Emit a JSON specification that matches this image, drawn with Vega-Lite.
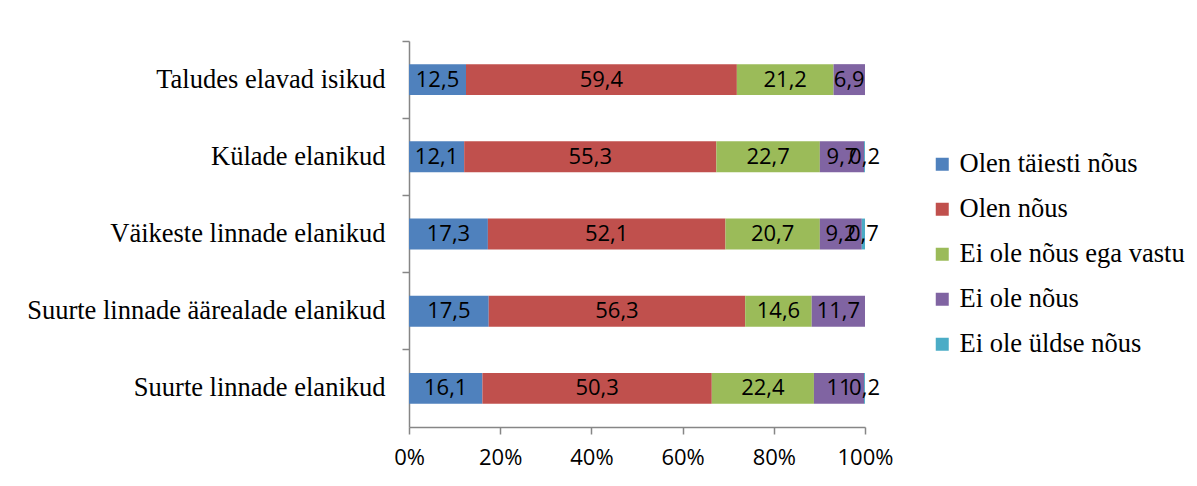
{
  "$schema": "https://vega.github.io/schema/vega-lite/v6.json",
  "width": 456,
  "height": 386,
  "autosize": "none",
  "padding": {"left": 409, "top": 41, "right": 332, "bottom": 59},
  "background": "white",
  "config": {
    "view": {"stroke": null},
    "locale": {"number": {"decimal": ",", "thousands": " ", "grouping": [3], "currency": ["", "€"]}}
  },
  "data": {
    "values": [
      {"Grupp": "Taludes elavad isikud", "Vastus": "Olen täiesti nõus", "v": 12.5},
      {"Grupp": "Taludes elavad isikud", "Vastus": "Olen nõus", "v": 59.4},
      {"Grupp": "Taludes elavad isikud", "Vastus": "Ei ole nõus ega vastu", "v": 21.2},
      {"Grupp": "Taludes elavad isikud", "Vastus": "Ei ole nõus", "v": 6.9},
      {"Grupp": "Külade elanikud", "Vastus": "Olen täiesti nõus", "v": 12.1},
      {"Grupp": "Külade elanikud", "Vastus": "Olen nõus", "v": 55.3},
      {"Grupp": "Külade elanikud", "Vastus": "Ei ole nõus ega vastu", "v": 22.7},
      {"Grupp": "Külade elanikud", "Vastus": "Ei ole nõus", "v": 9.7},
      {"Grupp": "Külade elanikud", "Vastus": "Ei ole üldse nõus", "v": 0.2},
      {"Grupp": "Väikeste linnade elanikud", "Vastus": "Olen täiesti nõus", "v": 17.3},
      {"Grupp": "Väikeste linnade elanikud", "Vastus": "Olen nõus", "v": 52.1},
      {"Grupp": "Väikeste linnade elanikud", "Vastus": "Ei ole nõus ega vastu", "v": 20.7},
      {"Grupp": "Väikeste linnade elanikud", "Vastus": "Ei ole nõus", "v": 9.2},
      {"Grupp": "Väikeste linnade elanikud", "Vastus": "Ei ole üldse nõus", "v": 0.7},
      {"Grupp": "Suurte linnade äärealade elanikud", "Vastus": "Olen täiesti nõus", "v": 17.5},
      {"Grupp": "Suurte linnade äärealade elanikud", "Vastus": "Olen nõus", "v": 56.3},
      {"Grupp": "Suurte linnade äärealade elanikud", "Vastus": "Ei ole nõus ega vastu", "v": 14.6},
      {"Grupp": "Suurte linnade äärealade elanikud", "Vastus": "Ei ole nõus", "v": 11.7},
      {"Grupp": "Suurte linnade elanikud", "Vastus": "Olen täiesti nõus", "v": 16.1},
      {"Grupp": "Suurte linnade elanikud", "Vastus": "Olen nõus", "v": 50.3},
      {"Grupp": "Suurte linnade elanikud", "Vastus": "Ei ole nõus ega vastu", "v": 22.4},
      {"Grupp": "Suurte linnade elanikud", "Vastus": "Ei ole nõus", "v": 11},
      {"Grupp": "Suurte linnade elanikud", "Vastus": "Ei ole üldse nõus", "v": 0.2}
    ]
  },
  "transform": [
    {"calculate": "indexof(['Olen täiesti nõus','Olen nõus','Ei ole nõus ega vastu','Ei ole nõus','Ei ole üldse nõus'], datum.Vastus)", "as": "o"},
    {"stack": "v", "groupby": ["Grupp"], "sort": [{"field": "o", "order": "ascending"}], "offset": "normalize", "as": ["v0", "v1"]},
    {"calculate": "(datum.v0 + datum.v1) / 2", "as": "vm"}
  ],
  "encoding": {
    "y": {
      "field": "Grupp",
      "type": "nominal",
      "sort": ["Taludes elavad isikud", "Külade elanikud", "Väikeste linnade elanikud", "Suurte linnade äärealade elanikud", "Suurte linnade elanikud"],
      "scale": {"paddingInner": 0, "paddingOuter": 0},
      "axis": {
        "title": null,
        "bandPosition": 0,
        "tickSize": 7,
        "tickColor": "#868686",
        "domainColor": "#868686",
        "tickWidth": 1.5,
        "domainWidth": 1.5,
        "labelFont": "Liberation Serif",
        "labelFontSize": 26.5,
        "labelColor": "black",
        "labelPadding": 17,
        "labelLimit": 0
      }
    }
  },
  "layer": [
    {
      "mark": {"type": "bar", "height": {"band": 0.4}},
      "encoding": {
        "x": {
          "field": "v0",
          "type": "quantitative",
          "scale": {"domain": [0, 1], "nice": false},
          "axis": {
            "title": null,
            "values": [0, 0.2, 0.4, 0.6, 0.8, 1],
            "format": ".0%",
            "grid": false,
            "tickSize": 7,
            "tickColor": "#868686",
            "domainColor": "#868686",
            "tickWidth": 1.5,
            "domainWidth": 1.5,
            "labelFont": "Open Sans",
            "labelFontSize": 22,
            "labelColor": "black",
            "labelPadding": 13,
            "labelFlush": false
          }
        },
        "x2": {"field": "v1"},
        "color": {
          "field": "Vastus",
          "type": "nominal",
          "scale": {
            "domain": ["Olen täiesti nõus", "Olen nõus", "Ei ole nõus ega vastu", "Ei ole nõus", "Ei ole üldse nõus"],
            "range": ["#4F81BD", "#C0504D", "#9BBB59", "#8064A2", "#4BACC6"]
          },
          "legend": {
            "title": null,
            "orient": "none",
            "legendX": 520,
            "legendY": 110,
            "symbolType": "square",
            "symbolSize": 169,
            "symbolStrokeWidth": 0,
            "symbolOpacity": 1,
            "labelFont": "Liberation Serif",
            "labelFontSize": 26.5,
            "labelColor": "black",
            "labelOffset": 4,
            "rowPadding": 18,
            "labelLimit": 0
          }
        }
      }
    },
    {
      "mark": {"type": "text", "font": "Open Sans", "fontSize": 22, "color": "black", "align": "center", "baseline": "middle"},
      "encoding": {
        "x": {"field": "vm", "type": "quantitative"},
        "text": {"field": "v", "type": "quantitative", "format": ".3~g"}
      }
    }
  ]
}
